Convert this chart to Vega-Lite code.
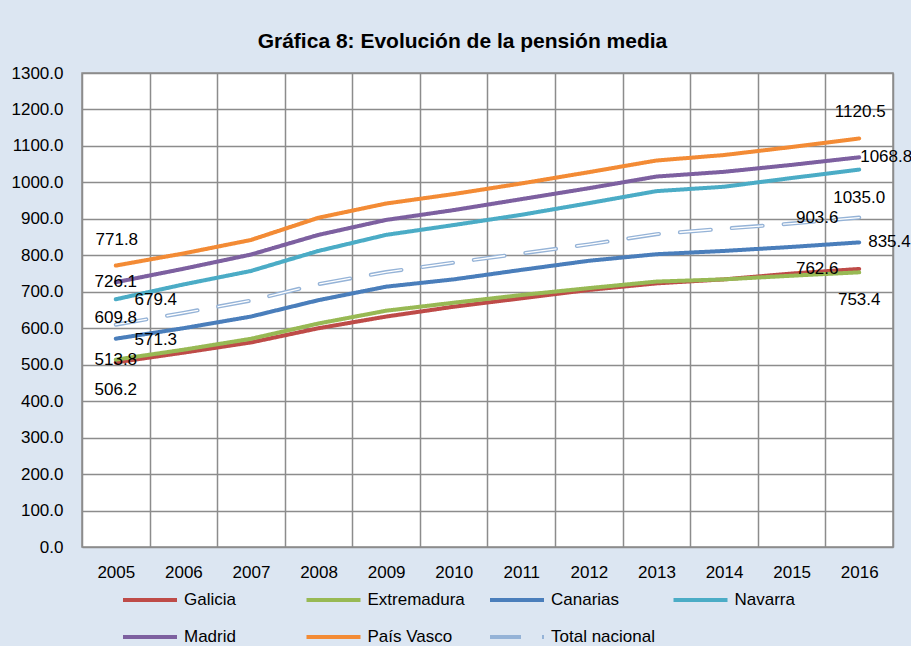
{
  "$schema": "https://vega.github.io/schema/vega-lite/v6.json",
  "width": 811,
  "height": 474,
  "autosize": {"type": "none"},
  "padding": {"left": 82, "top": 73, "right": 18, "bottom": 99},
  "background": "#DCE6F2",
  "title": {
    "text": "Gráfica 8: Evolución de la pensión media",
    "font": "Liberation Sans",
    "fontSize": 21,
    "fontWeight": "bold",
    "color": "#000000",
    "anchor": "middle",
    "dx": -25,
    "baseline": "alphabetic",
    "offset": -5
  },
  "config": {
    "view": {"fill": "#FFFFFF", "stroke": "#8C8C8C", "strokeWidth": 1.5},
    "legend": {
      "orient": "none",
      "legendX": 39,
      "legendY": 498,
      "direction": "horizontal",
      "columns": 4,
      "gridAlign": "all",
      "columnPadding": 10.5,
      "rowPadding": -22,
      "padding": 0,
      "symbolType": "stroke",
      "symbolSize": 2916,
      "symbolStrokeWidth": 4,
      "labelFont": "Liberation Sans",
      "labelFontSize": 17,
      "labelColor": "#000000",
      "labelOffset": 5,
      "title": null
    }
  },
  "data": {
    "values": [
      {"year": 2005, "series": "Galicia", "value": 506.2},
      {"year": 2006, "series": "Galicia", "value": 533},
      {"year": 2007, "series": "Galicia", "value": 561},
      {"year": 2008, "series": "Galicia", "value": 600},
      {"year": 2009, "series": "Galicia", "value": 632},
      {"year": 2010, "series": "Galicia", "value": 659},
      {"year": 2011, "series": "Galicia", "value": 682},
      {"year": 2012, "series": "Galicia", "value": 705},
      {"year": 2013, "series": "Galicia", "value": 723},
      {"year": 2014, "series": "Galicia", "value": 734},
      {"year": 2015, "series": "Galicia", "value": 750},
      {"year": 2016, "series": "Galicia", "value": 762.6},
      {"year": 2005, "series": "Extremadura", "value": 513.8},
      {"year": 2006, "series": "Extremadura", "value": 541},
      {"year": 2007, "series": "Extremadura", "value": 571},
      {"year": 2008, "series": "Extremadura", "value": 613},
      {"year": 2009, "series": "Extremadura", "value": 648},
      {"year": 2010, "series": "Extremadura", "value": 670},
      {"year": 2011, "series": "Extremadura", "value": 691},
      {"year": 2012, "series": "Extremadura", "value": 710},
      {"year": 2013, "series": "Extremadura", "value": 728},
      {"year": 2014, "series": "Extremadura", "value": 734},
      {"year": 2015, "series": "Extremadura", "value": 744},
      {"year": 2016, "series": "Extremadura", "value": 753.4},
      {"year": 2005, "series": "Canarias", "value": 571.3},
      {"year": 2006, "series": "Canarias", "value": 600},
      {"year": 2007, "series": "Canarias", "value": 632},
      {"year": 2008, "series": "Canarias", "value": 677},
      {"year": 2009, "series": "Canarias", "value": 714},
      {"year": 2010, "series": "Canarias", "value": 734},
      {"year": 2011, "series": "Canarias", "value": 760},
      {"year": 2012, "series": "Canarias", "value": 785},
      {"year": 2013, "series": "Canarias", "value": 803},
      {"year": 2014, "series": "Canarias", "value": 812},
      {"year": 2015, "series": "Canarias", "value": 823},
      {"year": 2016, "series": "Canarias", "value": 835.4},
      {"year": 2005, "series": "Navarra", "value": 679.4},
      {"year": 2006, "series": "Navarra", "value": 720},
      {"year": 2007, "series": "Navarra", "value": 757},
      {"year": 2008, "series": "Navarra", "value": 812},
      {"year": 2009, "series": "Navarra", "value": 856},
      {"year": 2010, "series": "Navarra", "value": 883},
      {"year": 2011, "series": "Navarra", "value": 911},
      {"year": 2012, "series": "Navarra", "value": 943},
      {"year": 2013, "series": "Navarra", "value": 976},
      {"year": 2014, "series": "Navarra", "value": 988},
      {"year": 2015, "series": "Navarra", "value": 1012},
      {"year": 2016, "series": "Navarra", "value": 1035.0},
      {"year": 2005, "series": "Madrid", "value": 726.1},
      {"year": 2006, "series": "Madrid", "value": 763},
      {"year": 2007, "series": "Madrid", "value": 802},
      {"year": 2008, "series": "Madrid", "value": 856},
      {"year": 2009, "series": "Madrid", "value": 897},
      {"year": 2010, "series": "Madrid", "value": 924},
      {"year": 2011, "series": "Madrid", "value": 954},
      {"year": 2012, "series": "Madrid", "value": 984},
      {"year": 2013, "series": "Madrid", "value": 1016},
      {"year": 2014, "series": "Madrid", "value": 1029},
      {"year": 2015, "series": "Madrid", "value": 1048},
      {"year": 2016, "series": "Madrid", "value": 1068.8},
      {"year": 2005, "series": "País Vasco", "value": 771.8},
      {"year": 2006, "series": "País Vasco", "value": 805},
      {"year": 2007, "series": "País Vasco", "value": 842},
      {"year": 2008, "series": "País Vasco", "value": 903},
      {"year": 2009, "series": "País Vasco", "value": 942},
      {"year": 2010, "series": "País Vasco", "value": 968},
      {"year": 2011, "series": "País Vasco", "value": 997},
      {"year": 2012, "series": "País Vasco", "value": 1028},
      {"year": 2013, "series": "País Vasco", "value": 1060},
      {"year": 2014, "series": "País Vasco", "value": 1075},
      {"year": 2015, "series": "País Vasco", "value": 1097},
      {"year": 2016, "series": "País Vasco", "value": 1120.5},
      {"year": 2005, "series": "Total nacional", "value": 609.8},
      {"year": 2006, "series": "Total nacional", "value": 642},
      {"year": 2007, "series": "Total nacional", "value": 676},
      {"year": 2008, "series": "Total nacional", "value": 721},
      {"year": 2009, "series": "Total nacional", "value": 754},
      {"year": 2010, "series": "Total nacional", "value": 780},
      {"year": 2011, "series": "Total nacional", "value": 805},
      {"year": 2012, "series": "Total nacional", "value": 830},
      {"year": 2013, "series": "Total nacional", "value": 858},
      {"year": 2014, "series": "Total nacional", "value": 873},
      {"year": 2015, "series": "Total nacional", "value": 887},
      {"year": 2016, "series": "Total nacional", "value": 903.6}
    ]
  },
  "encoding": {
    "x": {
      "field": "year",
      "type": "ordinal",
      "bandPosition": 0.5,
      "scale": {"type": "band", "paddingInner": 0, "paddingOuter": 0},
      "axis": {
        "title": null,
        "labelAngle": 0,
        "ticks": false,
        "domain": false,
        "grid": true,
        "tickBand": "extent",
        "gridColor": "#8C8C8C",
        "gridWidth": 1.5,
        "labelPadding": 17,
        "labelFont": "Liberation Sans",
        "labelFontSize": 17,
        "labelColor": "#000000"
      }
    },
    "y": {
      "field": "value",
      "type": "quantitative",
      "scale": {"domain": [0, 1300], "nice": false},
      "axis": {
        "title": null,
        "values": [0, 100, 200, 300, 400, 500, 600, 700, 800, 900, 1000, 1100, 1200, 1300],
        "format": ".1f",
        "ticks": false,
        "domain": false,
        "grid": true,
        "gridColor": "#8C8C8C",
        "gridWidth": 1.5,
        "labelPadding": 19,
        "labelFont": "Liberation Sans",
        "labelFontSize": 17,
        "labelColor": "#000000"
      }
    }
  },
  "layer": [
    {
      "mark": {"type": "line", "strokeWidth": 4, "strokeCap": "round", "strokeJoin": "round"},
      "encoding": {
        "color": {
          "field": "series",
          "type": "nominal",
          "title": null,
          "scale": {
            "domain": ["Galicia", "Extremadura", "Canarias", "Navarra", "Madrid", "País Vasco", "Total nacional"],
            "range": ["#BE4B48", "#98B954", "#4A7EBB", "#4BACC6", "#7D60A0", "#F38B35", "#95B3D7"]
          }
        },
        "strokeDash": {
          "field": "series",
          "type": "nominal",
          "title": null,
          "scale": {
            "domain": ["Galicia", "Extremadura", "Canarias", "Navarra", "Madrid", "País Vasco", "Total nacional"],
            "range": [[1, 0], [1, 0], [1, 0], [1, 0], [1, 0], [1, 0], [31, 21]]
          }
        }
      }
    },
    {
      "transform": [{"filter": "datum.series == 'Total nacional'"}],
      "mark": {"type": "line", "strokeWidth": 1.3, "strokeCap": "round", "strokeDash": [31, 21], "color": "#FFFFFF"},
      "encoding": {}
    },
    {
      "transform": [{"filter": "(datum.year == 2005 && datum.series == 'País Vasco') || (datum.year == 2016 && datum.series == 'País Vasco')"}],
      "mark": {"type": "text", "font": "Liberation Sans", "fontSize": 17, "color": "#000000", "baseline": "middle", "dy": -26, "dx": 1},
      "encoding": {"text": {"field": "value", "type": "quantitative", "format": ".1f"}}
    },
    {
      "transform": [{"filter": "datum.year == 2005 && (datum.series == 'Madrid' || datum.series == 'Extremadura')"}],
      "mark": {"type": "text", "font": "Liberation Sans", "fontSize": 17, "color": "#000000", "baseline": "middle", "dy": 0},
      "encoding": {"text": {"field": "value", "type": "quantitative", "format": ".1f"}}
    },
    {
      "transform": [{"filter": "datum.year == 2005 && datum.series == 'Total nacional'"}],
      "mark": {"type": "text", "font": "Liberation Sans", "fontSize": 17, "color": "#000000", "baseline": "middle", "dy": -7},
      "encoding": {"text": {"field": "value", "type": "quantitative", "format": ".1f"}}
    },
    {
      "transform": [{"filter": "(datum.year == 2005 && datum.series == 'Galicia') || (datum.year == 2016 && (datum.series == 'Navarra' || datum.series == 'Extremadura'))"}],
      "mark": {"type": "text", "font": "Liberation Sans", "fontSize": 17, "color": "#000000", "baseline": "middle", "dy": 28},
      "encoding": {"text": {"field": "value", "type": "quantitative", "format": ".1f"}}
    },
    {
      "transform": [{"filter": "datum.year == 2005 && (datum.series == 'Navarra' || datum.series == 'Canarias')"}],
      "mark": {"type": "text", "font": "Liberation Sans", "fontSize": 17, "color": "#000000", "baseline": "middle", "dx": 40, "dy": 1},
      "encoding": {"text": {"field": "value", "type": "quantitative", "format": ".1f"}}
    },
    {
      "transform": [{"filter": "datum.year == 2016 && datum.series == 'Madrid'"}],
      "mark": {"type": "text", "font": "Liberation Sans", "fontSize": 17, "color": "#000000", "baseline": "middle", "align": "left", "dx": 1},
      "encoding": {"text": {"field": "value", "type": "quantitative", "format": ".1f"}}
    },
    {
      "transform": [{"filter": "datum.year == 2016 && datum.series == 'Canarias'"}],
      "mark": {"type": "text", "font": "Liberation Sans", "fontSize": 17, "color": "#000000", "baseline": "middle", "align": "left", "dx": 9},
      "encoding": {"text": {"field": "value", "type": "quantitative", "format": ".1f"}}
    },
    {
      "transform": [{"filter": "datum.year == 2016 && (datum.series == 'Total nacional' || datum.series == 'Galicia')"}],
      "mark": {"type": "text", "font": "Liberation Sans", "fontSize": 17, "color": "#000000", "baseline": "middle", "dx": -42},
      "encoding": {"text": {"field": "value", "type": "quantitative", "format": ".1f"}}
    }
  ]
}
